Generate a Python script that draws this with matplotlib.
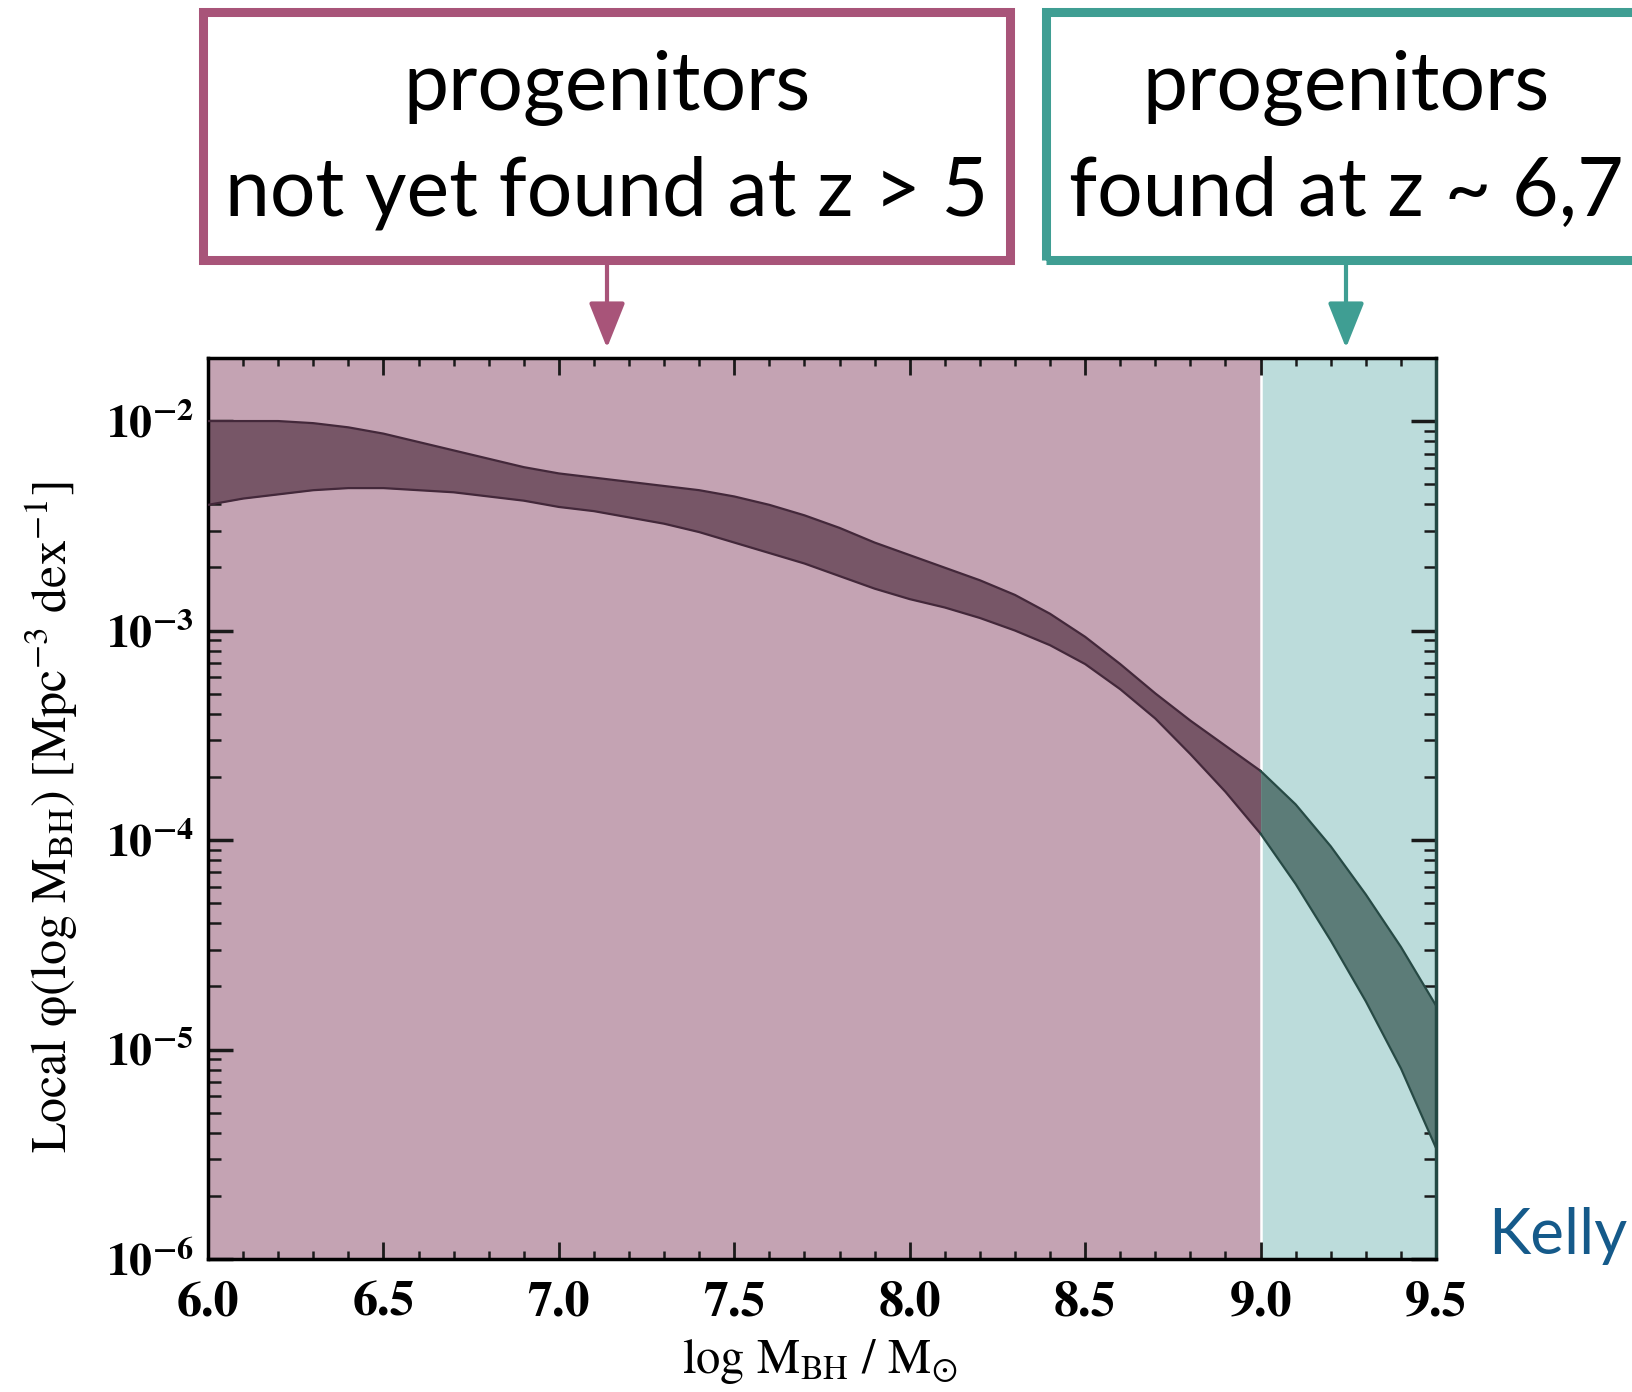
import numpy as np
import matplotlib.pyplot as plt
from matplotlib.patches import Rectangle, FancyArrowPatch
from matplotlib.ticker import FixedLocator, LogLocator, NullFormatter, MultipleLocator

plt.rcParams['mathtext.fontset'] = 'stix'
plt.rcParams['font.family'] = ['STIXGeneral', 'DejaVu Serif']

# local BH mass function band (Kelly)
log_mbh = [6.0, 6.1, 6.2, 6.3, 6.4, 6.5, 6.6, 6.7, 6.8, 6.9,
           7.0, 7.1, 7.2, 7.3, 7.4, 7.5, 7.6, 7.7, 7.8, 7.9,
           8.0, 8.1, 8.2, 8.3, 8.4, 8.5, 8.6, 8.7, 8.8, 8.9,
           9.0, 9.1, 9.2, 9.3, 9.4, 9.5]
log_phi_hi = [-2.00, -2.00, -2.00, -2.01, -2.03, -2.06, -2.10, -2.14, -2.18, -2.22,
              -2.25, -2.27, -2.29, -2.31, -2.33, -2.36, -2.40, -2.45, -2.51, -2.58,
              -2.64, -2.70, -2.76, -2.83, -2.92, -3.03, -3.16, -3.30, -3.43, -3.55,
              -3.67, -3.83, -4.03, -4.26, -4.51, -4.79]
log_phi_lo = [-2.40, -2.37, -2.35, -2.33, -2.32, -2.32, -2.33, -2.34, -2.36, -2.38,
              -2.41, -2.43, -2.46, -2.49, -2.53, -2.58, -2.63, -2.68, -2.74, -2.80,
              -2.85, -2.89, -2.94, -3.00, -3.07, -3.16, -3.28, -3.42, -3.59, -3.77,
              -3.97, -4.21, -4.48, -4.77, -5.09, -5.47]

x_ticks = [6.0, 6.5, 7.0, 7.5, 8.0, 8.5, 9.0, 9.5]
x_tick_labels = ['6.0', '6.5', '7.0', '7.5', '8.0', '8.5', '9.0', '9.5']
y_ticks = [1e-6, 1e-5, 1e-4, 1e-3, 1e-2]
y_tick_labels = [r'$\mathbf{10^{-6}}$', r'$\mathbf{10^{-5}}$', r'$\mathbf{10^{-4}}$',
                 r'$\mathbf{10^{-3}}$', r'$\mathbf{10^{-2}}$']
split = 9.0

box_texts = ['progenitors\nnot yet found at z > 5', 'progenitors\nfound at z ~ 6,7']

mag_bg, mag_band, mag_line, mag_box = '#c4a3b3', '#775667', '#43283a', '#a85479'
teal_bg, teal_band, teal_line, teal_box = '#bcdcdb', '#5c7c78', '#274a45', '#3f9e93'

fig = plt.figure(figsize=(16.32, 13.92), dpi=100)
ax = fig.add_axes([208/1632, 1 - 1259/1392, 1228/1632, 901/1392])

x = np.array(log_mbh)
hi = 10 ** np.array(log_phi_hi)
lo = 10 ** np.array(log_phi_lo)

ax.axvspan(6.0, split, color=mag_bg, lw=0, zorder=0)
ax.axvspan(split, 9.5, color=teal_bg, lw=0, zorder=0)
ax.axvline(split, color='white', lw=1.8, zorder=1)

left = x <= split
right = x >= split
ax.fill_between(x[left], lo[left], hi[left], color=mag_band, lw=0, zorder=2)
ax.plot(x[left], hi[left], color=mag_line, lw=1.6, zorder=3)
ax.plot(x[left], lo[left], color=mag_line, lw=1.6, zorder=3)
ax.fill_between(x[right], lo[right], hi[right], color=teal_band, lw=0, zorder=2)
ax.plot(x[right], hi[right], color=teal_line, lw=1.6, zorder=3)
ax.plot(x[right], lo[right], color=teal_line, lw=1.6, zorder=3)

ax.set_yscale('log')
ax.set_xlim(6.0, 9.5)
ax.set_ylim(1e-6, 2e-2)

ax.xaxis.set_major_locator(FixedLocator(x_ticks))
ax.set_xticklabels(x_tick_labels, fontsize=36, fontweight='bold')
ax.xaxis.set_minor_locator(MultipleLocator(0.1))
ax.yaxis.set_major_locator(FixedLocator(y_ticks))
ax.set_yticklabels(y_tick_labels, fontsize=33)
ax.yaxis.set_minor_locator(LogLocator(subs=np.arange(2, 10)))
ax.yaxis.set_minor_formatter(NullFormatter())

ax.tick_params(which='both', direction='in', top=True, right=True, color='#1a1a1a')
ax.tick_params(axis='x', which='major', length=12, width=2, pad=16)
ax.tick_params(axis='x', which='minor', length=6, width=1.8)
ax.tick_params(axis='y', which='major', length=18, width=2.5, pad=10)
ax.tick_params(axis='y', which='minor', length=9, width=1.8)
for s in ax.spines.values():
    s.set_linewidth(2.5)
ax.spines['right'].set_color('#234843')

fig.text(52/1632, 1 - 817/1392, r'Local φ(log M$_{\rm BH}$) [Mpc$^{-3}$ dex$^{-1}$]',
         rotation=90, ha='center', va='center', fontsize=36)
fig.text(820/1632, 1 - 1362/1392, r'log M$_{\rm BH}$ / M$_{\odot}$',
         ha='center', va='center', fontsize=35)

# boxes with arrows above the plot
boxes = [(203, 1010, 607, mag_box), (1046, 1680, 1346, teal_box)]
for (x0, x1, xc, col), txt in zip(boxes, box_texts):
    fig.add_artist(Rectangle((x0/1632, 1 - 260/1392), (x1 - x0)/1632, 248/1392,
                             transform=fig.transFigure, fill=False, ec=col, lw=6.5))
    fig.text(xc/1632, 1 - 140/1392, txt, ha='center', va='center', fontsize=58,
             family=['Lato', 'DejaVu Sans'], linespacing=1.5)
    fig.add_artist(FancyArrowPatch((xc/1632, 1 - 262/1392), (xc/1632, 1 - 348/1392),
                                   transform=fig.transFigure, arrowstyle='-|>,head_length=1.0,head_width=0.4',
                                   mutation_scale=28, color=col, lw=3, shrinkA=0, shrinkB=0))

fig.text(1488/1632, 1 - 1236/1392, 'Kelly', ha='left', va='center', fontsize=46,
         color='#155a8a', family=['Lato', 'DejaVu Sans'])

fig.savefig('out.png', dpi=100)
